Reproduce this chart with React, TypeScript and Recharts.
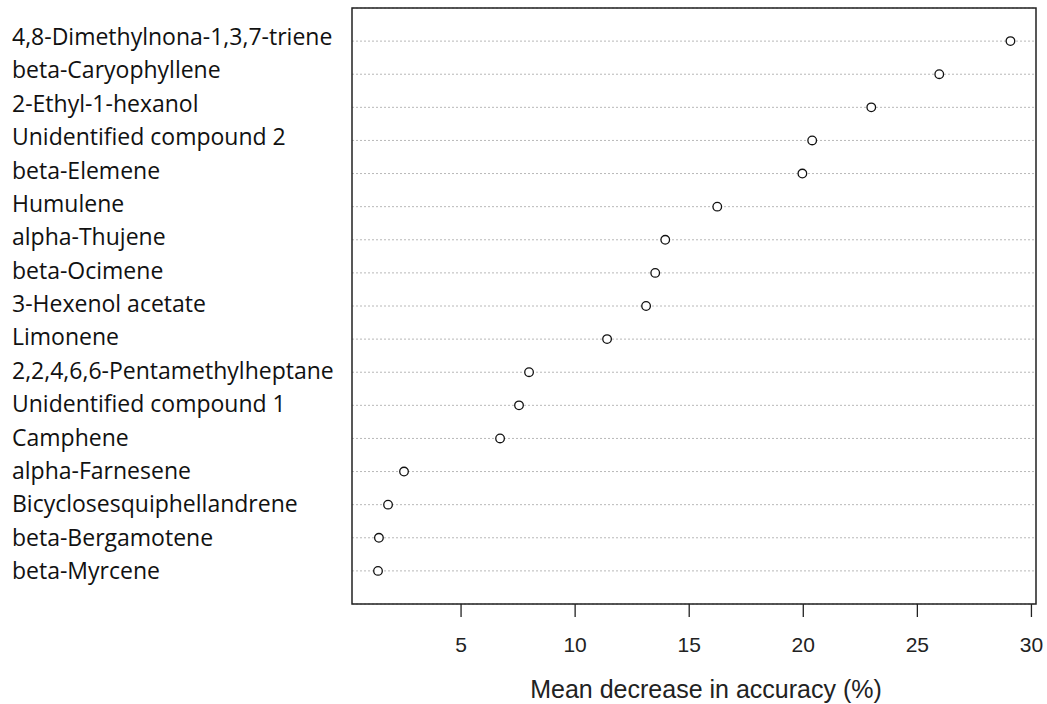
import React from "react";
import {
  CartesianGrid,
  Label,
  ReferenceArea,
  Scatter,
  ScatterChart,
  XAxis,
  YAxis,
} from "recharts";

const compounds = [
  "4,8-Dimethylnona-1,3,7-triene",
  "beta-Caryophyllene",
  "2-Ethyl-1-hexanol",
  "Unidentified compound 2",
  "beta-Elemene",
  "Humulene",
  "alpha-Thujene",
  "beta-Ocimene",
  "3-Hexenol acetate",
  "Limonene",
  "2,2,4,6,6-Pentamethylheptane",
  "Unidentified compound 1",
  "Camphene",
  "alpha-Farnesene",
  "Bicyclosesquiphellandrene",
  "beta-Bergamotene",
  "beta-Myrcene",
];

const accuracyDrop = [
  29.08, 25.96, 22.98, 20.39, 19.96, 16.23, 13.95, 13.51, 13.11, 11.4, 7.98,
  7.54, 6.71, 2.5, 1.8, 1.4, 1.36,
];

const xTicks = [5, 10, 15, 20, 25, 30];

const X_MIN = 0.22;
const X_MAX = 30.2;
const N = compounds.length;

// row 1 at the top, like R's dotchart (ylim 0..n+1)
const rows = compounds.map((name, i) => ({
  name,
  value: accuracyDrop[i],
  row: N - i,
}));
const rowTicks = rows.map((r) => r.row);

const labelFont = "'Open Sans', 'Noto Sans', sans-serif";
const axisFont = "'Liberation Sans', Arial, sans-serif";

function CompoundTick(props: any) {
  const { y, payload } = props;
  const idx = N - payload.value;
  // the pasted-in labels drift a little lower than the rows
  return (
    <text
      x={12}
      y={y}
      dy={4 + idx * 0.26}
      textAnchor="start"
      fill="#111"
      fontFamily={labelFont}
      fontSize={23}
    >
      {compounds[idx]}
    </text>
  );
}

function OpenDot(props: any) {
  const { cx, cy } = props;
  return <circle cx={cx} cy={cy} r={4.3} fill="#fff" stroke="#111" strokeWidth={1.3} />;
}

export default function App() {
  return (
    <div style={{ position: "absolute", left: 0, top: 0, background: "#fff" }}>
      <ScatterChart
        width={1047}
        height={704}
        margin={{ top: 8, right: 11, bottom: 0, left: 0 }}
      >
        <CartesianGrid
          vertical={false}
          stroke="#b8b8b8"
          strokeDasharray="2 2"
        />
        <XAxis
          type="number"
          dataKey="value"
          domain={[X_MIN, X_MAX]}
          ticks={xTicks}
          allowDataOverflow
          height={100}
          axisLine={false}
          tickLine={{ stroke: "#222", strokeWidth: 1.3 }}
          tickSize={13}
          tickMargin={20}
          tick={{ fontSize: 21, fill: "#222", fontFamily: axisFont }}
        >
          <Label
            value="Mean decrease in accuracy (%)"
            position="insideBottom"
            offset={6}
            dx={12}
            style={{ fontSize: 25, fill: "#222", fontFamily: axisFont }}
          />
        </XAxis>
        <YAxis
          type="number"
          dataKey="row"
          domain={[0, N + 1]}
          ticks={rowTicks}
          interval={0}
          width={352}
          axisLine={false}
          tickLine={false}
          tick={<CompoundTick />}
        />
        <ReferenceArea
          x1={X_MIN}
          x2={X_MAX}
          y1={0}
          y2={N + 1}
          fill="none"
          stroke="#222"
          strokeWidth={1.5}
          ifOverflow="extendDomain"
        />
        <Scatter data={rows} shape={<OpenDot />} isAnimationActive={false} />
      </ScatterChart>
    </div>
  );
}
